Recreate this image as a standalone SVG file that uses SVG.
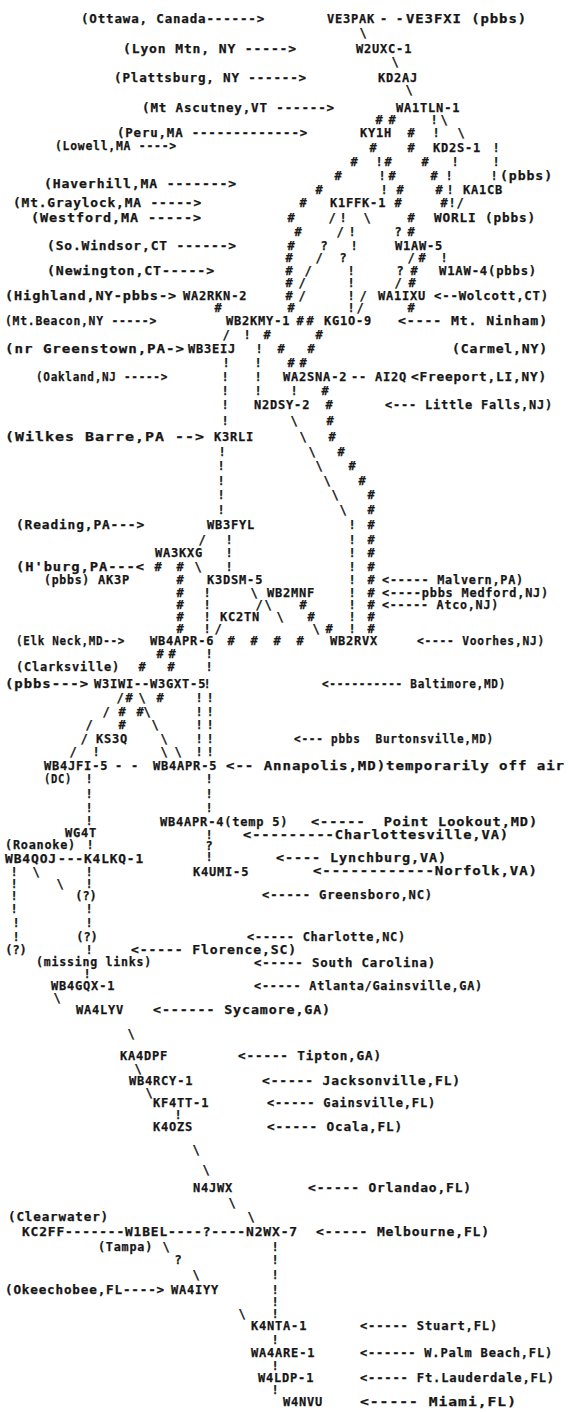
<svg xmlns="http://www.w3.org/2000/svg" width="569" height="1412" viewBox="0 0 569 1412">
<style>
text{font-family:"DejaVu Sans Mono","Liberation Mono",monospace;font-size:12px;font-weight:bold;fill:#161616;stroke:#161616;stroke-width:0.25px;letter-spacing:0.8px;white-space:pre}
#connectors text{text-anchor:middle;letter-spacing:0}
#connectors text.s{text-anchor:start;letter-spacing:0.8px}
</style>
<rect width="569" height="1412" fill="#ffffff"/>
<g id="labels">
<text x="81" y="23" textLength="184" lengthAdjust="spacingAndGlyphs">(Ottawa, Canada------&gt;</text>
<text x="123" y="53" textLength="174" lengthAdjust="spacingAndGlyphs">(Lyon Mtn, NY -----&gt;</text>
<text x="114" y="82" textLength="193" lengthAdjust="spacingAndGlyphs">(Plattsburg, NY ------&gt;</text>
<text x="142" y="112" textLength="193" lengthAdjust="spacingAndGlyphs">(Mt Ascutney,VT ------&gt;</text>
<text x="117" y="137" textLength="191" lengthAdjust="spacingAndGlyphs">(Peru,MA -------------&gt;</text>
<text x="55" y="150" textLength="122" lengthAdjust="spacingAndGlyphs">(Lowell,MA ----&gt;</text>
<text x="44" y="188" textLength="193" lengthAdjust="spacingAndGlyphs">(Haverhill,MA -------&gt;</text>
<text x="13" y="207" textLength="189" lengthAdjust="spacingAndGlyphs">(Mt.Graylock,MA -----&gt;</text>
<text x="31" y="222" textLength="171" lengthAdjust="spacingAndGlyphs">(Westford,MA -----&gt;</text>
<text x="47" y="250" textLength="190" lengthAdjust="spacingAndGlyphs">(So.Windsor,CT ------&gt;</text>
<text x="47" y="275" textLength="168" lengthAdjust="spacingAndGlyphs">(Newington,CT-----&gt;</text>
<text x="5" y="300" textLength="172" lengthAdjust="spacingAndGlyphs">(Highland,NY-pbbs-&gt;</text>
<text x="434" y="300" textLength="115" lengthAdjust="spacingAndGlyphs">&lt;--Wolcott,CT)</text>
<text x="5" y="325" textLength="152" lengthAdjust="spacingAndGlyphs">(Mt.Beacon,NY -----&gt;</text>
<text x="398" y="325" textLength="150" lengthAdjust="spacingAndGlyphs">&lt;---- Mt. Ninham)</text>
<text x="452" y="353" textLength="96" lengthAdjust="spacingAndGlyphs">(Carmel,NY)</text>
<text x="5" y="353" textLength="180" lengthAdjust="spacingAndGlyphs">(nr Greenstown,PA-&gt;</text>
<text x="36" y="381" textLength="132" lengthAdjust="spacingAndGlyphs">(Oakland,NJ -----&gt;</text>
<text x="411" y="381" textLength="136" lengthAdjust="spacingAndGlyphs">&lt;Freeport,LI,NY)</text>
<text x="385" y="409" textLength="168" lengthAdjust="spacingAndGlyphs">&lt;--- Little Falls,NJ)</text>
<text x="5" y="441" textLength="200" lengthAdjust="spacingAndGlyphs">(Wilkes Barre,PA --&gt;</text>
<text x="16" y="529" textLength="129" lengthAdjust="spacingAndGlyphs">(Reading,PA---&gt;</text>
<text x="16" y="571" textLength="129" lengthAdjust="spacingAndGlyphs">(H'burg,PA---&lt;</text>
<text x="44" y="584" textLength="46" lengthAdjust="spacingAndGlyphs">(pbbs)</text>
<text x="382" y="584" textLength="142" lengthAdjust="spacingAndGlyphs">&lt;----- Malvern,PA)</text>
<text x="382" y="597" textLength="167" lengthAdjust="spacingAndGlyphs">&lt;----pbbs Medford,NJ)</text>
<text x="382" y="609" textLength="117" lengthAdjust="spacingAndGlyphs">&lt;----- Atco,NJ)</text>
<text x="16" y="645" textLength="109" lengthAdjust="spacingAndGlyphs">(Elk Neck,MD--&gt;</text>
<text x="417" y="645" textLength="128" lengthAdjust="spacingAndGlyphs">&lt;---- Voorhes,NJ)</text>
<text x="16" y="671" textLength="104" lengthAdjust="spacingAndGlyphs">(Clarksville)</text>
<text x="5" y="688" textLength="84" lengthAdjust="spacingAndGlyphs">(pbbs---&gt;</text>
<text x="322" y="688" textLength="184" lengthAdjust="spacingAndGlyphs">&lt;---------- Baltimore,MD)</text>
<text x="294" y="743" textLength="200" lengthAdjust="spacingAndGlyphs">&lt;--- pbbs  Burtonsville,MD)</text>
<text x="226" y="770" textLength="339" lengthAdjust="spacingAndGlyphs">&lt;-- Annapolis,MD)temporarily off air</text>
<text x="44" y="783" textLength="28" lengthAdjust="spacingAndGlyphs">(DC)</text>
<text x="311" y="826" textLength="227" lengthAdjust="spacingAndGlyphs">&lt;-----  Point Lookout,MD)</text>
<text x="243" y="839" textLength="266" lengthAdjust="spacingAndGlyphs">&lt;---------Charlottesville,VA)</text>
<text x="5" y="849" textLength="71" lengthAdjust="spacingAndGlyphs">(Roanoke)</text>
<text x="276" y="862" textLength="171" lengthAdjust="spacingAndGlyphs">&lt;---- Lynchburg,VA)</text>
<text x="313" y="875" textLength="225" lengthAdjust="spacingAndGlyphs">&lt;------------Norfolk,VA)</text>
<text x="262" y="899" textLength="171" lengthAdjust="spacingAndGlyphs">&lt;----- Greensboro,NC)</text>
<text x="247" y="941" textLength="159" lengthAdjust="spacingAndGlyphs">&lt;----- Charlotte,NC)</text>
<text x="131" y="954" textLength="166" lengthAdjust="spacingAndGlyphs">&lt;----- Florence,SC)</text>
<text x="36" y="966" textLength="116" lengthAdjust="spacingAndGlyphs">(missing links)</text>
<text x="254" y="967" textLength="182" lengthAdjust="spacingAndGlyphs">&lt;----- South Carolina)</text>
<text x="254" y="990" textLength="229" lengthAdjust="spacingAndGlyphs">&lt;----- Atlanta/Gainsville,GA)</text>
<text x="153" y="1014" textLength="178" lengthAdjust="spacingAndGlyphs">&lt;------ Sycamore,GA)</text>
<text x="238" y="1060" textLength="144" lengthAdjust="spacingAndGlyphs">&lt;----- Tipton,GA)</text>
<text x="262" y="1085" textLength="199" lengthAdjust="spacingAndGlyphs">&lt;----- Jacksonville,FL)</text>
<text x="267" y="1107" textLength="169" lengthAdjust="spacingAndGlyphs">&lt;----- Gainsville,FL)</text>
<text x="267" y="1131" textLength="136" lengthAdjust="spacingAndGlyphs">&lt;----- Ocala,FL)</text>
<text x="308" y="1192" textLength="164" lengthAdjust="spacingAndGlyphs">&lt;----- Orlandao,FL)</text>
<text x="8" y="1221" textLength="101" lengthAdjust="spacingAndGlyphs">(Clearwater)</text>
<text x="316" y="1236" textLength="174" lengthAdjust="spacingAndGlyphs">&lt;----- Melbourne,FL)</text>
<text x="98" y="1251" textLength="55" lengthAdjust="spacingAndGlyphs">(Tampa)</text>
<text x="5" y="1294" textLength="160" lengthAdjust="spacingAndGlyphs">(Okeechobee,FL----&gt;</text>
<text x="360" y="1330" textLength="138" lengthAdjust="spacingAndGlyphs">&lt;----- Stuart,FL)</text>
<text x="360" y="1357" textLength="193" lengthAdjust="spacingAndGlyphs">&lt;------ W.Palm Beach,FL)</text>
<text x="360" y="1382" textLength="195" lengthAdjust="spacingAndGlyphs">&lt;----- Ft.Lauderdale,FL)</text>
<text x="360" y="1406" textLength="157" lengthAdjust="spacingAndGlyphs">&lt;----- Miami,FL)</text>
</g>
<g id="nodes">
<g id="n-VE3PAK"><text x="327" y="23">VE3PAK</text></g>
<g id="n-VE3FXI"><text x="406" y="23" textLength="121" lengthAdjust="spacingAndGlyphs">VE3FXI (pbbs)</text></g>
<g id="n-W2UXC-1"><text x="356" y="53">W2UXC-1</text></g>
<g id="n-KD2AJ"><text x="378" y="82">KD2AJ</text></g>
<g id="n-WA1TLN-1"><text x="396" y="112">WA1TLN-1</text></g>
<g id="n-KY1H"><text x="360" y="137">KY1H</text></g>
<g id="n-KD2S-1"><text x="433" y="152">KD2S-1</text></g>
<g id="n-KA1CB"><text x="500" y="180" textLength="53" lengthAdjust="spacingAndGlyphs">(pbbs)</text><text x="463" y="194">KA1CB</text></g>
<g id="n-K1FFK-1"><text x="330" y="207">K1FFK-1</text></g>
<g id="n-WORLI"><text x="434" y="222" textLength="102" lengthAdjust="spacingAndGlyphs">WORLI (pbbs)</text></g>
<g id="n-W1AW-5"><text x="395" y="250">W1AW-5</text></g>
<g id="n-W1AW-4"><text x="439" y="275" textLength="98" lengthAdjust="spacingAndGlyphs">W1AW-4(pbbs)</text></g>
<g id="n-WA2RKN-2"><text x="183" y="300">WA2RKN-2</text></g>
<g id="n-WA1IXU"><text x="378" y="300">WA1IXU</text></g>
<g id="n-WB2KMY-1"><text x="226" y="325">WB2KMY-1</text></g>
<g id="n-KG1O-9"><text x="324" y="325">KG1O-9</text></g>
<g id="n-WB3EIJ"><text x="188" y="353">WB3EIJ</text></g>
<g id="n-WA2SNA-2"><text x="283" y="381">WA2SNA-2</text></g>
<g id="n-AI2Q"><text x="375" y="381">AI2Q</text></g>
<g id="n-N2DSY-2"><text x="254" y="409">N2DSY-2</text></g>
<g id="n-K3RLI"><text x="214" y="441">K3RLI</text></g>
<g id="n-WB3FYL"><text x="207" y="529">WB3FYL</text></g>
<g id="n-WA3KXG"><text x="155" y="557">WA3KXG</text></g>
<g id="n-AK3P"><text x="98" y="584">AK3P</text></g>
<g id="n-K3DSM-5"><text x="207" y="584">K3DSM-5</text></g>
<g id="n-WB2MNF"><text x="267" y="597">WB2MNF</text></g>
<g id="n-KC2TN"><text x="220" y="621">KC2TN</text></g>
<g id="n-WB4APR-6"><text x="150" y="645">WB4APR-6</text></g>
<g id="n-WB2RVX"><text x="330" y="645">WB2RVX</text></g>
<g id="n-W3IWI"><text x="94" y="688">W3IWI</text></g>
<g id="n-W3GXT-5"><text x="150" y="688">W3GXT-5</text></g>
<g id="n-KS3Q"><text x="96" y="743">KS3Q</text></g>
<g id="n-WB4JFI-5"><text x="44" y="770">WB4JFI-5</text></g>
<g id="n-WB4APR-5"><text x="153" y="770">WB4APR-5</text></g>
<g id="n-WB4APR-4"><text x="160" y="826">WB4APR-4(temp 5)</text></g>
<g id="n-WG4T"><text x="65" y="837">WG4T</text></g>
<g id="n-WB4QOJ"><text x="5" y="863" textLength="52" lengthAdjust="spacingAndGlyphs">WB4QOJ</text></g>
<g id="n-K4LKQ-1"><text x="84" y="863" textLength="60" lengthAdjust="spacingAndGlyphs">K4LKQ-1</text></g>
<g id="n-K4UMI-5"><text x="193" y="876">K4UMI-5</text></g>
<g id="n-WB4GQX-1"><text x="51" y="990">WB4GQX-1</text></g>
<g id="n-WA4LYV"><text x="76" y="1014">WA4LYV</text></g>
<g id="n-KA4DPF"><text x="120" y="1060">KA4DPF</text></g>
<g id="n-WB4RCY-1"><text x="129" y="1085">WB4RCY-1</text></g>
<g id="n-KF4TT-1"><text x="153" y="1107">KF4TT-1</text></g>
<g id="n-K4OZS"><text x="153" y="1131">K4OZS</text></g>
<g id="n-N4JWX"><text x="193" y="1192">N4JWX</text></g>
<g id="n-KC2FF"><text x="22" y="1236" textLength="43" lengthAdjust="spacingAndGlyphs">KC2FF</text></g>
<g id="n-W1BEL"><text x="125" y="1236" textLength="43" lengthAdjust="spacingAndGlyphs">W1BEL</text></g>
<g id="n-N2WX-7"><text x="246" y="1236" textLength="52" lengthAdjust="spacingAndGlyphs">N2WX-7</text></g>
<g id="n-WA4IYY"><text x="171" y="1294">WA4IYY</text></g>
<g id="n-K4NTA-1"><text x="251" y="1330">K4NTA-1</text></g>
<g id="n-WA4ARE-1"><text x="251" y="1357">WA4ARE-1</text></g>
<g id="n-W4LDP-1"><text x="258" y="1382">W4LDP-1</text></g>
<g id="n-W4NVU"><text x="283" y="1406">W4NVU</text></g>
</g>
<g id="connectors">
<text class="s" x="380" y="23">- -</text>
<text x="363" y="37">\</text>
<text x="395" y="66">\</text>
<text x="409" y="94">\</text>
<text x="379" y="124">#</text><text x="392" y="124">#</text><text x="434" y="124">!</text><text x="444" y="124">\</text>
<text x="411" y="137">#</text><text x="436" y="137">!</text><text x="461" y="137">\</text>
<text x="373" y="152">#</text><text x="411" y="152">#</text><text x="496" y="152">!</text>
<text x="354" y="166">#</text><text x="379" y="166">!</text><text x="388" y="166">#</text><text x="425" y="166">#</text><text x="455" y="166">!</text><text x="496" y="166">!</text>
<text x="338" y="180">#</text><text x="382" y="180">!</text><text x="392" y="180">#</text><text x="434" y="180">#</text><text x="449" y="180">!</text><text x="494" y="180">!</text>
<text x="319" y="194">#</text><text x="384" y="194">!</text><text x="400" y="194">#</text><text x="439" y="194">#</text><text x="450" y="194">!</text>
<text x="303" y="207">#</text><text x="398" y="207">#</text><text x="444" y="207">#</text><text x="452" y="207">!</text><text x="460" y="207">/</text>
<text x="291" y="222">#</text><text x="332" y="222">/</text><text x="343" y="222">!</text><text x="367" y="222">\</text><text x="411" y="222">#</text>
<text x="298" y="236">#</text><text x="340" y="236">/</text><text x="352" y="236">!</text><text x="398" y="236">?</text><text x="411" y="236">#</text>
<text x="291" y="250">#</text><text x="324" y="250">?</text><text x="354" y="250">!</text>
<text x="289" y="262">#</text><text x="319" y="262">/</text><text x="343" y="262">?</text><text x="411" y="262">/</text><text x="422" y="262">#</text><text x="444" y="262">!</text>
<text x="289" y="275">#</text><text x="308" y="275">/</text><text x="351" y="275">!</text><text x="400" y="275">?</text><text x="414" y="275">#</text>
<text x="289" y="287">#</text><text x="302" y="287">/</text><text x="351" y="287">!</text><text x="398" y="287">/</text><text x="412" y="287">#</text>
<text x="289" y="300">#</text><text x="302" y="300">/</text><text x="351" y="300">!</text><text x="363" y="300">/</text>
<text x="218" y="312">#</text><text x="291" y="312">#</text><text x="351" y="312">!</text><text x="360" y="312">/</text><text x="411" y="312">#</text>
<text x="300" y="325">#</text><text x="310" y="325">#</text>
<text x="226" y="339">/</text><text x="247" y="339">!</text><text x="267" y="339">#</text><text x="319" y="339">#</text>
<text x="259" y="353">!</text><text x="281" y="353">#</text><text x="311" y="353">#</text>
<text x="226" y="367">!</text><text x="258" y="367">!</text><text x="291" y="367">#</text><text x="303" y="367">#</text>
<text x="225" y="381">!</text><text x="258" y="381">!</text><text class="s" x="351" y="381">--</text>
<text x="225" y="395">!</text><text x="258" y="395">!</text><text x="294" y="395">!</text><text x="325" y="395">#</text>
<text x="225" y="409">!</text><text x="329" y="409">#</text>
<text x="225" y="425">!</text><text x="294" y="425">\</text><text x="330" y="425">#</text>
<text x="303" y="441">\</text><text x="332" y="441">#</text>
<text x="222" y="456">!</text><text x="312" y="456">\</text><text x="341" y="456">#</text>
<text x="221" y="470">!</text><text x="319" y="470">\</text><text x="352" y="470">#</text>
<text x="221" y="485">!</text><text x="327" y="485">\</text><text x="362" y="485">#</text>
<text x="221" y="499">!</text><text x="335" y="499">\</text><text x="371" y="499">#</text>
<text x="221" y="514">!</text><text x="343" y="514">\</text><text x="371" y="514">#</text>
<text x="352" y="529">!</text><text x="371" y="529">#</text>
<text x="202" y="544">/</text><text x="229" y="544">!</text><text x="352" y="544">!</text><text x="371" y="544">#</text>
<text x="229" y="557">!</text><text x="352" y="557">!</text><text x="371" y="557">#</text>
<text x="158" y="571">#</text><text x="180" y="571">#</text><text x="198" y="571">\</text><text x="229" y="571">!</text><text x="352" y="571">!</text><text x="371" y="571">#</text>
<text x="180" y="584">#</text><text x="352" y="584">!</text><text x="371" y="584">#</text>
<text x="180" y="597">#</text><text x="207" y="597">!</text><text x="254" y="597">\</text><text x="352" y="597">!</text><text x="371" y="597">#</text>
<text x="180" y="609">#</text><text x="207" y="609">!</text><text x="259" y="609">/</text><text x="268" y="609">\</text><text x="303" y="609">#</text><text x="352" y="609">!</text><text x="371" y="609">#</text>
<text x="180" y="621">#</text><text x="207" y="621">!</text><text x="280" y="621">\</text><text x="311" y="621">#</text><text x="352" y="621">!</text><text x="371" y="621">#</text>
<text x="180" y="633">#</text><text x="207" y="633">!</text><text x="218" y="633">/</text><text x="316" y="633">\</text><text x="329" y="633">#</text><text x="352" y="633">!</text><text x="371" y="633">#</text>
<text x="231" y="645">#</text><text x="254" y="645">#</text><text x="277" y="645">#</text><text x="300" y="645">#</text>
<text x="160" y="658">#</text><text x="172" y="658">#</text><text x="209" y="658">!</text>
<text x="142" y="671">#</text><text x="171" y="671">#</text><text x="209" y="671">!</text>
<text class="s" x="134" y="688">--</text><text x="207" y="688">!</text>
<text x="120" y="702">/</text><text x="129" y="702">#</text><text x="142" y="702">\</text><text x="160" y="702">#</text><text x="199" y="702">!</text><text x="210" y="702">!</text>
<text x="106" y="716">/</text><text x="122" y="716">#</text><text x="140" y="716">#</text><text x="147" y="716">\</text><text x="199" y="716">!</text><text x="210" y="716">!</text>
<text x="89" y="729">/</text><text x="122" y="729">#</text><text x="155" y="729">\</text><text x="199" y="729">!</text><text x="210" y="729">!</text>
<text x="84" y="743">/</text><text x="164" y="743">\</text><text x="199" y="743">!</text><text x="210" y="743">!</text>
<text x="73" y="756">/</text><text x="96" y="756">!</text><text x="164" y="756">\</text><text x="178" y="756">\</text><text x="199" y="756">!</text><text x="210" y="756">!</text>
<text class="s" x="115" y="770">- -</text>
<text x="89" y="783">!</text><text x="209" y="783">!</text>
<text x="89" y="798">!</text><text x="209" y="798">!</text>
<text x="89" y="812">!</text><text x="209" y="812">!</text>
<text x="89" y="825">!</text>
<text x="209" y="839">!</text>
<text x="90" y="849">!</text><text x="209" y="850">?</text>
<text class="s" x="58" y="863" textLength="26" lengthAdjust="spacingAndGlyphs">---</text><text x="209" y="861">!</text>
<text x="14" y="876">!</text><text x="36" y="876">\</text><text x="89" y="876">!</text>
<text x="14" y="888">!</text><text x="60" y="888">\</text><text x="89" y="888">!</text>
<text x="14" y="900">!</text><text x="86" y="900">(?)</text>
<text x="14" y="913">!</text><text x="89" y="913">!</text>
<text x="16" y="927">!</text><text x="89" y="927">!</text>
<text x="16" y="941">!</text><text x="87" y="941">(?)</text>
<text x="16" y="954">(?)</text><text x="89" y="954">!</text>
<text x="87" y="978">!</text>
<text x="57" y="1002">\</text>
<text x="131" y="1038">\</text>
<text x="138" y="1073">\</text>
<text x="149" y="1097">\</text>
<text x="178" y="1119">!</text>
<text x="196" y="1154">\</text>
<text x="206" y="1174">\</text>
<text x="232" y="1207">\</text>
<text x="251" y="1221">\</text>
<text class="s" x="65" y="1236" textLength="60" lengthAdjust="spacingAndGlyphs">-------</text><text class="s" x="168" y="1236" textLength="78" lengthAdjust="spacingAndGlyphs">----?----</text>
<text x="166" y="1251">\</text><text x="275" y="1251">!</text>
<text x="178" y="1264">?</text><text x="275" y="1264">!</text>
<text x="196" y="1279">\</text><text x="275" y="1279">!</text>
<text x="275" y="1294">!</text>
<text x="275" y="1306">!</text>
<text x="242" y="1318">\</text><text x="275" y="1318">!</text>
<text x="275" y="1344">!</text>
<text x="275" y="1370">!</text>
<text x="275" y="1394">!</text>
</g>
</svg>
